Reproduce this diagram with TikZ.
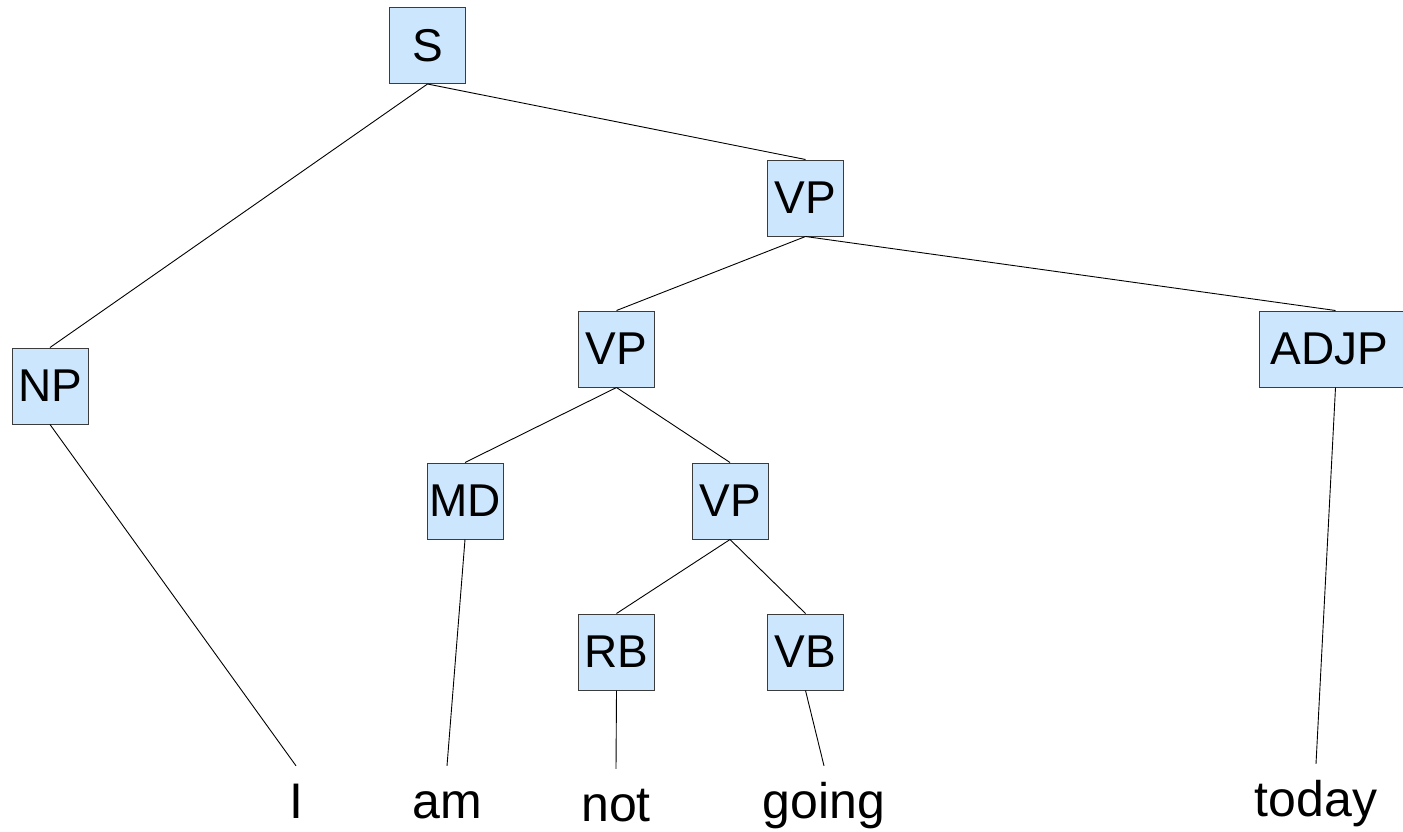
\documentclass[tikz,border=0pt]{standalone}
\usepackage{fontspec}
\setmainfont{Liberation Sans}
\definecolor{boxfill}{RGB}{204,230,253}
\definecolor{boxline}{RGB}{60,60,60}
\begin{document}
\begin{tikzpicture}[x=1pt,y=-1pt,
  cat/.style={draw=boxline,fill=boxfill,line width=1pt,minimum width=76pt,minimum height=76pt,inner sep=0pt,font=\fontsize{46}{46}\selectfont},
  word/.style={anchor=base,inner xsep=0pt,inner ysep=16pt,text height=36pt,text depth=0pt,font=\fontsize{50}{50}\selectfont},
  edge/.style={draw=black,line width=0.9pt}]
\useasboundingbox (0,0) rectangle (1403,831);
\node[cat] (S) at (427.5,45.5) {S};
\node[cat] (VP1) at (805.5,198) {VP};
\node[cat] (NP) at (50,386) {NP};
\node[cat] (VP2) at (616.5,349) {VP};
\node[cat,minimum width=153pt] (ADJP) at (1335.5,349) {\hspace*{-6pt}ADJP\hspace*{6pt}};
\node[cat] (MD) at (465,501) {MD};
\node[cat] (VP3) at (730,501) {VP};
\node[cat] (RB) at (616.5,652) {RB};
\node[cat] (VB) at (805.5,652) {VB};
\node[word] (wI) at (296,818) {I};
\node[word] (wam) at (447,818) {am};
\node[word] (wnot) at (616,821) {not};
\node[word] (wgoing) at (824,818) {going};
\node[word] (wtoday) at (1316,816) {today};
\draw[edge] (S.south) -- (NP.north);
\draw[edge] (S.south) -- (VP1.north);
\draw[edge] (VP1.south) -- (VP2.north);
\draw[edge] (VP1.south) -- (ADJP.north);
\draw[edge] (VP2.south) -- (MD.north);
\draw[edge] (VP2.south) -- (VP3.north);
\draw[edge] (VP3.south) -- (RB.north);
\draw[edge] (VP3.south) -- (VB.north);
\draw[edge] (NP.south) -- (wI.north);
\draw[edge] (MD.south) -- (wam.north);
\draw[edge] (RB.south) -- (wnot.north);
\draw[edge] (VB.south) -- (wgoing.north);
\draw[edge] (ADJP.south) -- (wtoday.north);
\end{tikzpicture}
\end{document}
